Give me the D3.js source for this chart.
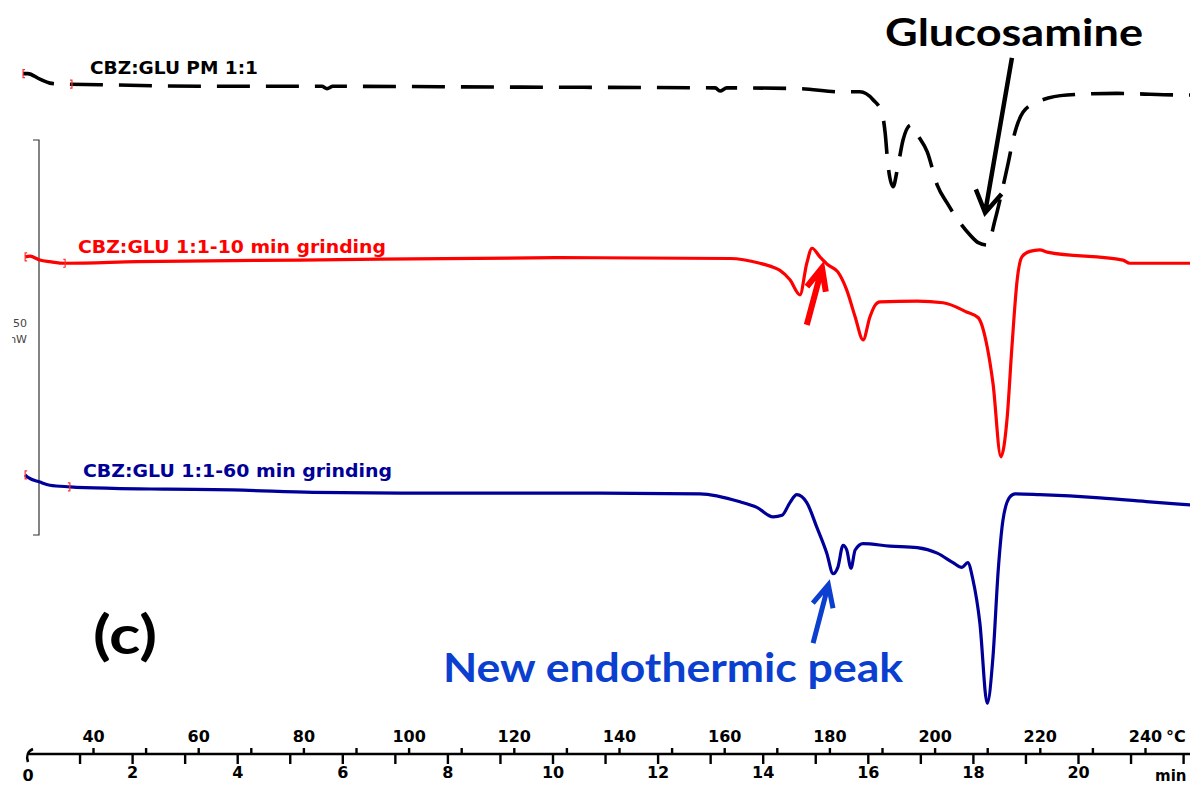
<!DOCTYPE html>
<html>
<head>
<meta charset="utf-8">
<script src="https://cdn.jsdelivr.net/npm/d3@7"></script>
<style>
  body { margin: 0; background: #fff; overflow: hidden; }
  svg { display: block; }
  .lbl { font-family: "DejaVu Sans", Verdana, sans-serif; font-weight: bold; }
  .ann { font-family: Lato, "Open Sans", sans-serif; font-weight: bold; }
</style>
</head>
<body>
<svg id="chart" width="1190" height="787"></svg>
<script>
// DSC curves: [temperature °C, heat flow mW (with per-curve offset)]
var pmCurve = [
  [26.7, 58.4], [27.6, 58.4], [29.9, 57.7], [31.8, 57.2], [33.3, 57.1], [41.3, 57.0],
  [60.3, 56.8], [83.5, 56.8], [84.5, 56.5], [85.6, 56.8], [117.4, 56.7], [158.3, 56.6],
  [159.2, 56.2], [160.5, 56.6], [174.4, 56.5], [182.0, 56.1], [185.8, 56.1], [188.3, 55.1],
  [190.0, 53.4], [190.6, 50.9], [191.1, 47.1], [192.1, 44.1], [193.0, 46.6], [194.0, 50.0],
  [195.5, 51.9], [196.8, 50.6], [198.6, 48.5], [200.5, 44.3], [202.4, 42.0], [206.7, 38.0],
  [208.3, 37.0], [210.0, 36.7], [211.5, 39.9], [213.0, 44.1], [214.0, 47.1], [214.9, 50.0],
  [216.8, 53.5], [219.5, 54.8], [225.2, 55.7], [234.7, 55.9], [247.2, 55.7], [248.6, 55.7]
];
var grind10 = [
  [27.1, 35.2], [28.0, 35.3], [29.9, 34.8], [31.8, 34.6], [34.7, 34.4], [48.4, 34.6],
  [79.4, 34.8], [128.8, 35.1], [161.1, 35.0], [166.8, 34.4], [169.3, 33.9], [170.6, 33.5],
  [172.5, 32.3], [174.4, 30.4], [175.7, 34.4], [176.7, 36.3], [178.2, 35.2], [179.7, 34.2],
  [181.6, 33.3], [183.3, 31.0], [184.9, 27.6], [186.4, 24.7], [187.7, 27.6], [188.7, 29.1],
  [189.6, 29.5], [196.7, 29.6], [201.6, 29.4], [206.2, 28.2], [208.3, 27.5], [210.0, 23.8],
  [211.1, 19.2], [212.6, 9.9], [213.8, 14.9], [214.7, 23.8], [215.7, 32.3], [216.6, 35.2],
  [218.1, 35.9], [220.0, 36.1], [221.4, 35.8], [235.8, 34.8], [237.1, 34.4], [248.6, 34.4]
];
var grind60 = [
  [27.1, 7.6], [27.6, 7.3], [29.9, 6.7], [31.8, 6.3], [35.6, 6.1], [43.8, 5.9],
  [54.1, 5.8], [66.6, 5.7], [81.8, 5.4], [98.4, 5.3], [136.4, 5.3], [155.4, 5.2],
  [163.0, 4.2], [166.2, 3.5], [169.3, 2.3], [171.0, 2.5], [172.5, 4.1], [173.8, 5.1],
  [175.7, 4.1], [177.6, 1.0], [179.5, -2.3], [180.7, -4.9], [181.6, -4.1], [182.6, -1.3],
  [183.3, -1.9], [184.1, -4.2], [184.9, -1.9], [186.4, -1.1], [191.5, -1.4], [196.7, -1.6],
  [200.5, -2.3], [203.5, -3.5], [205.2, -4.1], [206.3, -3.5], [207.3, -5.7], [208.6, -11.1],
  [210.0, -21.3], [211.1, -15.4], [212.1, -4.4], [213.0, 1.9], [214.3, 4.8], [215.3, 5.2],
  [220.0, 5.1], [231.4, 4.7], [240.9, 4.2], [248.6, 3.8]
];

var seriesNames = ["CBZ:GLU PM 1:1", "CBZ:GLU 1:1-10 min grinding", "CBZ:GLU 1:1-60 min grinding"];
var seriesColors = ["#000000", "#ff0000", "#000099"];
var markerTemps = [36.0, 34.7, 35.6];

var tempTicks = d3.range(40, 250, 10);
var timeTicks = d3.range(0, 23, 1);
var scaleBar = [0, 50];

var svg = d3.select("#chart");
var axisY = 754;

var x = d3.scaleLinear().domain([40, 240]).range([93, 1145]);
var xt = d3.scaleLinear().domain([0, 20]).range([27, 1078]);
var y = d3.scaleLinear().domain([0, 50]).range([535, 140]);

// valor interpolado de una curva a cierta temperatura
function valueAt(curve, t) {
  var i = d3.bisector(function(d) { return d[0]; }).left(curve, t);
  if (i <= 0) return curve[0][1];
  var a = curve[i - 1], b = curve[i];
  return a[1] + (b[1] - a[1]) * (t - a[0]) / (b[0] - a[0]);
}

// escala de 50 mW a la izquierda
svg.append("path")
  .attr("d", "M33," + y(scaleBar[1]) + "H39V" + y(scaleBar[0]) + "H33")
  .attr("fill", "none")
  .attr("stroke", "#333")
  .attr("stroke-width", 1.2);

var clip = svg.append("clipPath").attr("id", "leftclip");
clip.append("rect").attr("x", 12).attr("y", 0).attr("width", 40).attr("height", 787);

var sb = svg.append("g").attr("clip-path", "url(#leftclip)")
  .style("font-family", "'DejaVu Sans', sans-serif")
  .style("font-size", "11px")
  .attr("fill", "#444");
sb.append("text").attr("x", 20).attr("y", 327).attr("text-anchor", "middle").text("50");
sb.append("text").attr("x", 27).attr("y", 343).attr("text-anchor", "end").text("mW");

// curvas
var line = d3.line()
  .x(function(d) { return x(d[0]); })
  .y(function(d) { return y(d[1]); })
  .curve(d3.curveMonotoneX);

var curves = [pmCurve, grind10, grind60];

curves.forEach(function(c, i) {
  svg.append("path")
    .datum(c)
    .attr("d", line)
    .attr("fill", "none")
    .attr("stroke", seriesColors[i])
    .attr("stroke-width", i === 0 ? 3.6 : 3.2)
    .attr("stroke-linejoin", "round")
    .attr("stroke-dasharray", i === 0 ? "33,16" : null);

  // marcas rojas de inicio
  var sx = x(c[0][0]), sy = y(c[0][1]);
  var ex = x(markerTemps[i]), ey = y(valueAt(c, markerTemps[i]));
  svg.append("path")
    .attr("d", "M" + (sx + 2) + "," + (sy - 4) + "H" + sx + "V" + (sy + 4) + "H" + (sx + 2) +
      "M" + (ex - 2) + "," + (ey - 4) + "H" + ex + "V" + (ey + 4) + "H" + (ex - 2))
    .attr("fill", "none")
    .attr("stroke", "#ff3030")
    .attr("stroke-width", 1.2);
});

// etiquetas de curvas
var labelPos = [[90, 74, 168], [78, 253, 308], [83, 477, 309]];
seriesNames.forEach(function(n, i) {
  svg.append("text")
    .attr("class", "lbl")
    .attr("x", labelPos[i][0])
    .attr("y", labelPos[i][1])
    .attr("textLength", labelPos[i][2])
    .attr("lengthAdjust", "spacingAndGlyphs")
    .style("font-size", "17px")
    .attr("fill", seriesColors[i])
    .text(n);
});

// eje inferior
svg.append("line")
  .attr("x1", 28).attr("x2", 1190)
  .attr("y1", axisY).attr("y2", axisY)
  .attr("stroke", "#000").attr("stroke-width", 2.6);
svg.append("path")
  .attr("d", "M28,762 C26,756 28,751 33,749")
  .attr("fill", "none").attr("stroke", "#000").attr("stroke-width", 2.6);

var gT = svg.append("g")
  .attr("transform", "translate(0," + axisY + ")")
  .call(d3.axisTop(x).tickValues(tempTicks).tickSize(6).tickPadding(6)
    .tickFormat(function(d) { return d % 20 === 0 ? d : ""; }));

var gM = svg.append("g")
  .attr("transform", "translate(0," + axisY + ")")
  .call(d3.axisBottom(xt).tickValues(timeTicks.slice(1)).tickSize(10).tickPadding(3)
    .tickFormat(function(d) { return d % 2 === 0 && d <= 20 ? d : ""; }));

[gT, gM].forEach(function(g) {
  g.select(".domain").remove();
  g.selectAll(".tick line").attr("stroke", "#000").attr("stroke-width", 2.4);
  g.selectAll("text")
    .attr("class", "lbl")
    .attr("fill", "#000")
    .style("font-size", "16px");
});

svg.append("text").attr("class", "lbl").attr("x", 28).attr("y", axisY + 27)
  .attr("text-anchor", "middle").style("font-size", "16px").text("0");
svg.append("text").attr("class", "lbl").attr("x", 1166).attr("y", axisY - 12)
  .style("font-size", "16px").text("°C");
svg.append("text").attr("class", "lbl").attr("x", 1155).attr("y", axisY + 27)
  .style("font-size", "15px").text("min");

// flechas de anotación
function arrow(from, to, color, w, head, ang) {
  var x1 = x(from[0]), y1 = y(from[1]), x2 = x(to[0]), y2 = y(to[1]);
  var a = Math.atan2(y2 - y1, x2 - x1);
  var h1 = [x2 - head * Math.cos(a - ang), y2 - head * Math.sin(a - ang)];
  var h2 = [x2 - head * Math.cos(a + ang), y2 - head * Math.sin(a + ang)];
  svg.append("path")
    .attr("d", "M" + x1 + "," + y1 + "L" + x2 + "," + y2 +
      "M" + h1[0] + "," + h1[1] + "L" + x2 + "," + y2 + "L" + h2[0] + "," + h2[1])
    .attr("fill", "none")
    .attr("stroke", color)
    .attr("stroke-width", w)
    .attr("stroke-linecap", "butt")
    .attr("stroke-linejoin", "miter");
}

arrow([214.7, 60.4], [209.6, 40.8], "#000", 4.5, 25, 0.55);
arrow([175.7, 26.6], [178.6, 33.8], "#ff0000", 6, 24, 0.42);
arrow([176.9, -13.7], [179.8, -6.3], "#0a3fd0", 5, 24, 0.45);

svg.append("text").attr("class", "ann")
  .attr("x", 885).attr("y", 46)
  .attr("textLength", 258).attr("lengthAdjust", "spacingAndGlyphs")
  .style("font-size", "38px").attr("fill", "#000")
  .text("Glucosamine");

svg.append("text").attr("class", "ann")
  .attr("x", 93).attr("y", 654)
  .attr("textLength", 64).attr("lengthAdjust", "spacingAndGlyphs")
  .style("font-size", "54px").attr("fill", "#000")
  .text("(c)");

svg.append("text").attr("class", "ann")
  .attr("x", 443).attr("y", 682)
  .attr("textLength", 460).attr("lengthAdjust", "spacingAndGlyphs")
  .style("font-size", "40px").attr("fill", "#0a3fd0")
  .text("New endothermic peak");
</script>
</body>
</html>
